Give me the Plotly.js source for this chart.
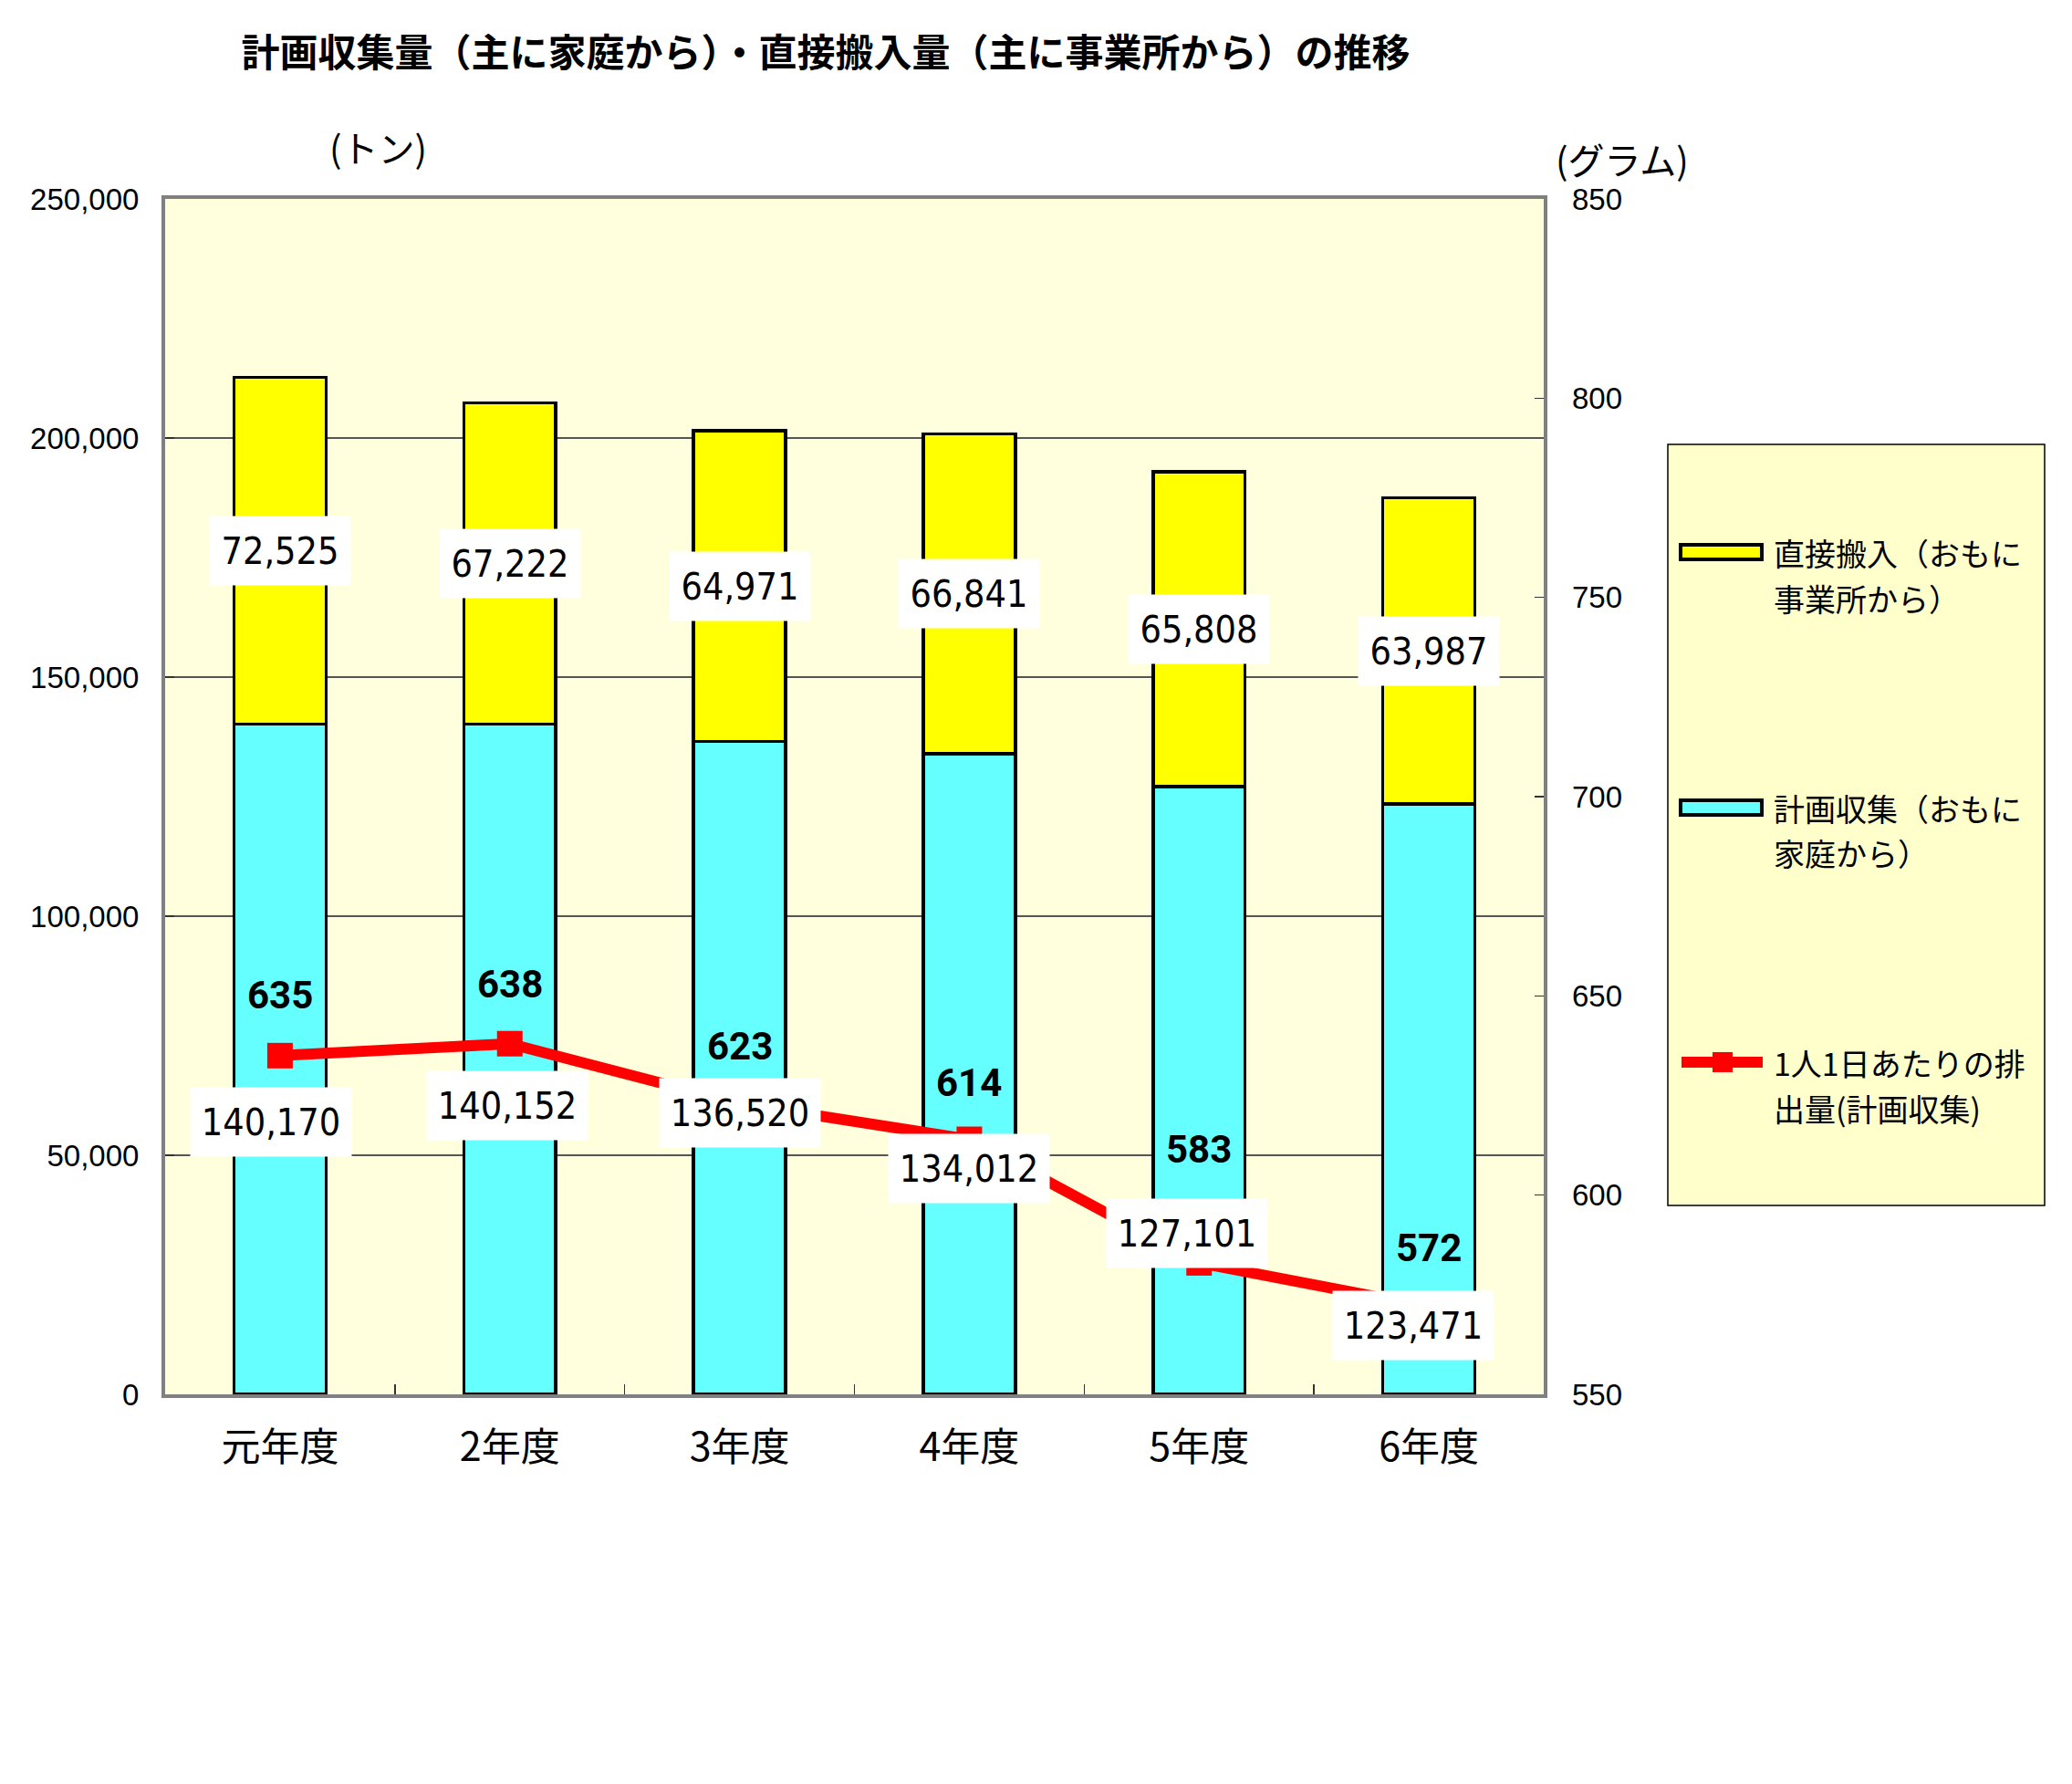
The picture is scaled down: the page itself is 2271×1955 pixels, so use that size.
<!DOCTYPE html>
<html>
<head>
<meta charset="utf-8">
<script src="https://cdn.plot.ly/plotly-3.0.1.min.js"></script>
<style>
  html, body { margin: 0; padding: 0; background: #ffffff; }
  #chart { width: 2271px; height: 1955px; }
</style>
</head>
<body>
<div id="chart"></div>
<script>
// ---- data ----
const categories = ['元年度', '2年度', '3年度', '4年度', '5年度', '6年度'];
const keikakuShushu = [140170, 140152, 136520, 134012, 127101, 123471];   // 計画収集 (tons)
const chokusetsuHannyu = [72525, 67222, 64971, 66841, 65808, 63987];      // 直接搬入 (tons)
const perCapita = [635, 638, 623, 614, 583, 572];                          // 1人1日あたり (g)

const seriesNames = ['計画収集（おもに家庭から）', '直接搬入（おもに事業所から）', '1人1日あたりの排出量(計画収集)'];
const titleText = '計画収集量（主に家庭から）・直接搬入量（主に事業所から）の推移';
const leftUnit = '(トン)';
const rightUnit = '(グラム)';
const legendLines = [
  ['直接搬入（おもに', '事業所から）'],
  ['計画収集（おもに', '家庭から）'],
  ['1人1日あたりの排', '出量(計画収集)']
];

// ---- label placement (pixel offsets from the line marker) ----
const cyanLabelDy = [-73, -68, -10, -32, 32, -21];
const cyanLabelDx = [-10, -3, 0, 0, -13, -17];
const lineLabelDy = [66, 65, 63, 62, 124, 64];

// ---- geometry of the plot area in the page ----
const W = 2271, H = 1955;
const L = 181, R = 1692, T = 218, B = 1528;
const px = x => (x - L) / (R - L);
const py = y => (B - y) / (B - T);

const numFmt = v => v.toLocaleString('en-US');
const numFont = 'DejaVu Sans Condensed, DejaVu Sans, sans-serif';
const jpFont = 'Noto Sans CJK JP, sans-serif';

const traces = [
  {
    type: 'bar', name: seriesNames[0], x: categories, y: keikakuShushu,
    marker: { color: '#66FFFF', line: { color: '#000000', width: 3.5 } },
    width: 0.4, hoverinfo: 'skip'
  },
  {
    type: 'bar', name: seriesNames[1], x: categories, y: chokusetsuHannyu,
    marker: { color: '#FFFF00', line: { color: '#000000', width: 3.5 } },
    width: 0.4, hoverinfo: 'skip'
  },
  {
    type: 'scatter', mode: 'lines+markers', name: seriesNames[2],
    x: categories, y: perCapita, yaxis: 'y2',
    line: { color: '#FF0000', width: 12 },
    marker: { symbol: 'square', size: 28, color: '#FF0000' },
    hoverinfo: 'skip'
  }
];

const annotations = [];
// yellow segment labels (centered on the segment)
categories.forEach((c, i) => {
  const t = numFmt(chokusetsuHannyu[i]);
  annotations.push({
    x: c, y: keikakuShushu[i] + chokusetsuHannyu[i] / 2, xref: 'x', yref: 'y',
    text: t, showarrow: false, bgcolor: '#FFFFFF',
    width: t.length * 22 + 20, height: 73,
    font: { family: numFont, size: 41, color: '#000000' }
  });
});
// cyan segment labels (placed near the line marker)
categories.forEach((c, i) => {
  const t = numFmt(keikakuShushu[i]);
  annotations.push({
    x: c, y: perCapita[i], xref: 'x', yref: 'y2',
    xshift: cyanLabelDx[i], yshift: cyanLabelDy[i],
    text: t, showarrow: false, bgcolor: '#FFFFFF',
    width: t.length * 22 + 20, height: 73,
    font: { family: numFont, size: 41, color: '#000000' }
  });
});
// line labels
categories.forEach((c, i) => {
  annotations.push({
    x: c, y: perCapita[i], xref: 'x', yref: 'y2', yshift: lineLabelDy[i],
    text: String(perCapita[i]), showarrow: false,
    font: { family: 'Roboto, sans-serif', size: 42, color: '#000000', weight: 'bold' }
  });
});
// unit labels
annotations.push({
  xref: 'paper', yref: 'paper', x: px(414), y: py(161), xanchor: 'center', yanchor: 'middle',
  text: leftUnit, showarrow: false, font: { family: jpFont, size: 40, color: '#000000' }
});
annotations.push({
  xref: 'paper', yref: 'paper', x: px(1778), y: py(174), xanchor: 'center', yanchor: 'middle',
  text: rightUnit, showarrow: false, font: { family: jpFont, size: 40, color: '#000000' }
});
// custom legend texts
const legendRowY = [605, 885, 1164];
legendLines.forEach((lines, k) => {
  lines.forEach((ln, j) => {
    annotations.push({
      xref: 'paper', yref: 'paper', x: px(1942), y: py(legendRowY[k] + j * 50),
      xanchor: 'left', yanchor: 'middle', text: ln, showarrow: false,
      font: { family: jpFont, size: 34, color: '#000000' }
    });
  });
});

const shapes = [
  // legend box
  { type: 'rect', xref: 'paper', yref: 'paper', x0: px(1828), x1: px(2241), y0: py(1321), y1: py(487),
    fillcolor: '#FFFFCC', line: { color: '#000000', width: 1.5 }, layer: 'below' },
  // yellow swatch
  { type: 'rect', xref: 'paper', yref: 'paper', x0: px(1842), x1: px(1931), y0: py(613), y1: py(597),
    fillcolor: '#FFFF00', line: { color: '#000000', width: 4 } },
  // cyan swatch
  { type: 'rect', xref: 'paper', yref: 'paper', x0: px(1842), x1: px(1931), y0: py(893), y1: py(877),
    fillcolor: '#66FFFF', line: { color: '#000000', width: 4 } },
  // red line swatch
  { type: 'line', xref: 'paper', yref: 'paper', x0: px(1843), x1: px(1932), y0: py(1164), y1: py(1164),
    line: { color: '#FF0000', width: 12 } },
  { type: 'rect', xref: 'paper', yref: 'paper', x0: px(1877), x1: px(1899), y0: py(1175), y1: py(1153),
    fillcolor: '#FF0000', line: { width: 0 } }
];

const layout = {
  width: W, height: H,
  margin: { l: L, r: W - R, t: T, b: H - B, pad: 0 },
  paper_bgcolor: '#FFFFFF',
  plot_bgcolor: '#FFFFDD',
  barmode: 'stack',
  showlegend: false,
  hovermode: false,
  title: {
    text: titleText, xref: 'container', yref: 'container',
    x: 905 / W, y: 1 - 58 / H, xanchor: 'center', yanchor: 'middle',
    font: { family: jpFont, size: 42, color: '#000000', weight: 'bold' }
  },
  xaxis: {
    type: 'category',
    tickson: 'boundaries', ticks: 'inside', ticklen: 11, tickwidth: 1.5, tickcolor: '#333333',
    showline: true, mirror: true, linecolor: '#808080', linewidth: 4,
    showgrid: false, zeroline: false,
    tickfont: { family: jpFont, size: 43, color: '#000000' },
    ticklabelstandoff: 17
  },
  yaxis: {
    range: [0, 250000], dtick: 50000, tickformat: ',d',
    ticks: 'inside', ticklen: 10, tickwidth: 1.5, tickcolor: '#333333',
    showline: true, mirror: true, linecolor: '#808080', linewidth: 4,
    showgrid: true, gridcolor: '#555555', gridwidth: 1.5, zeroline: false,
    tickfont: { family: 'Liberation Sans, Arial, sans-serif', size: 33, color: '#000000' },
    ticklabelstandoff: 18
  },
  yaxis2: {
    overlaying: 'y', side: 'right', range: [550, 850], dtick: 50,
    ticks: 'inside', ticklen: 10, tickwidth: 1.5, tickcolor: '#333333',
    showline: false, showgrid: false, zeroline: false,
    tickfont: { family: 'Liberation Sans, Arial, sans-serif', size: 33, color: '#000000' },
    ticklabelstandoff: 30
  },
  annotations: annotations,
  shapes: shapes
};

Plotly.newPlot('chart', traces, layout, { staticPlot: true, displayModeBar: false });
</script>
</body>
</html>
